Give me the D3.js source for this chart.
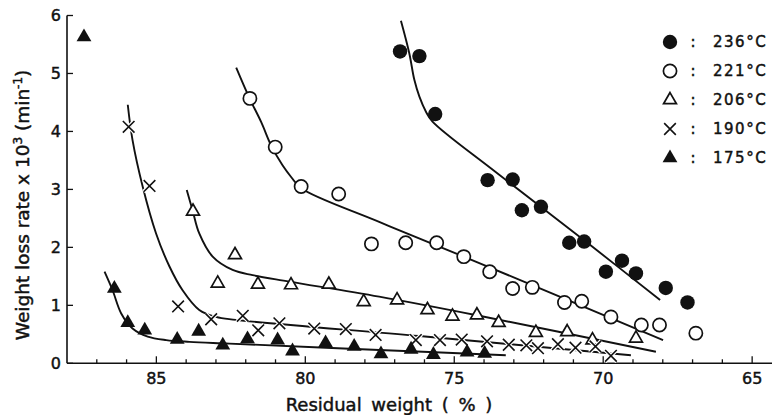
<!DOCTYPE html>
<html>
<head>
<meta charset="utf-8">
<script src="https://cdn.jsdelivr.net/npm/d3@7"></script>
<style>
  body { margin: 0; background: #fff; }
  svg { display: block; }
  text { font-family: "DejaVu Sans", sans-serif; fill: #111; stroke: #111; stroke-width: 0.45px; }
</style>
</head>
<body>
<svg width="774" height="415"></svg>
<script>
// 測定点 [残存重量(%), 重量減少速度 x10^3]
var pts236 = [[76.82,5.38],[76.17,5.30],[75.64,4.30],[73.88,3.16],[73.04,3.17],[72.73,2.64],[72.09,2.70],
  [71.14,2.08],[70.64,2.10],[69.91,1.58],[69.37,1.77],[68.90,1.55],[67.90,1.30],[67.17,1.05]];
var pts221 = [[81.86,4.57],[81.01,3.73],[80.14,3.05],[78.88,2.92],[77.78,2.06],[76.63,2.08],[75.59,2.08],
  [74.68,1.84],[73.81,1.58],[73.04,1.29],[72.38,1.31],[71.30,1.05],[70.72,1.07],[69.74,0.80],
  [68.72,0.66],[68.11,0.66],[66.89,0.52]];
var pts206 = [[83.77,2.62],[82.36,1.87],[82.94,1.38],[81.59,1.36],[80.48,1.35],[79.21,1.36],[78.04,1.06],
  [76.92,1.09],[75.90,0.92],[75.06,0.81],[74.24,0.83],[73.51,0.70],[72.26,0.53],[71.21,0.54],
  [70.36,0.40],[68.90,0.43]];
var pts190 = [[85.93,4.08],[85.23,3.06],[84.27,0.98],[83.16,0.76],[82.10,0.82],[81.58,0.57],[80.87,0.69],
  [79.70,0.60],[78.64,0.59],[77.64,0.49],[76.29,0.40],[75.48,0.40],[74.75,0.41],[73.90,0.38],
  [73.17,0.32],[72.58,0.31],[72.19,0.26],[71.52,0.33],[70.93,0.27],[70.26,0.29],[69.74,0.13]];
var pts175 = [[87.43,5.63],[86.41,1.29],[85.96,0.70],[85.39,0.57],[84.30,0.41],[83.58,0.55],[82.77,0.31],
  [81.94,0.42],[80.93,0.40],[80.43,0.21],[79.32,0.35],[78.36,0.29],[77.46,0.16],[76.45,0.24],
  [75.70,0.15],[74.57,0.19],[73.98,0.17]];

// フィット曲線
var fit236 = [[76.79,5.91],[76.51,5.35],[76.34,4.89],[76.17,4.60],[75.95,4.34],[75.73,4.17],[73.61,3.30],[70.36,2.01],[68.09,1.09]];
var fit221 = [[82.32,5.10],[81.88,4.58],[81.48,4.16],[81.14,3.75],[80.77,3.42],[80.47,3.21],[80.14,3.02],[77.52,2.44],[74.16,1.73],[67.99,0.40]];
var fit206 = [[83.98,2.99],[83.78,2.63],[83.56,2.24],[83.11,1.84],[82.44,1.61],[81.77,1.52],[80.54,1.41],[77.52,1.15],[74.16,0.82],[68.23,0.20]];
var fit190 = [[85.96,4.46],[85.80,3.85],[85.46,3.05],[85.01,2.24],[84.56,1.67],[84.12,1.26],[83.56,0.92],[83.00,0.80],[82.33,0.75],[76.17,0.47],[69.07,0.14]];
var fit175 = [[86.74,1.58],[86.47,1.26],[86.18,0.86],[85.80,0.60],[85.29,0.46],[84.67,0.40],[83.89,0.37],[82.55,0.34],[77.52,0.23],[73.27,0.14]];

var temps = ["236°C", "221°C", "206°C", "190°C", "175°C"];
var markers = ["dot", "ring", "tri", "cross", "filltri"];
var xTicks = [85, 80, 75, 70, 65];
var yTicks = [0, 1, 2, 3, 4, 5, 6];

var svg = d3.select("svg");

var x = d3.scaleLinear().domain([88, 64.3]).range([67, 773]);
var y = d3.scaleLinear().domain([0, 6]).range([363.3, 15.5]);

// 軸
var xAxis = svg.append("g").attr("transform", "translate(0," + y(0) + ")");
xAxis.append("line").attr("x1", x(88)).attr("x2", 772).attr("stroke", "#111").attr("stroke-width", 1.6);
xAxis.selectAll("line.minor")
    .data(d3.range(64, 88))
    .enter().append("line")
    .attr("class", "minor")
    .attr("x1", function (d) { return x(d); })
    .attr("x2", function (d) { return x(d); })
    .attr("y1", 0)
    .attr("y2", function (d) { return d % 5 === 0 ? -7 : -4; })
    .attr("stroke", "#111").attr("stroke-width", 1.3);
xAxis.selectAll("text")
    .data(xTicks)
    .enter().append("text")
    .attr("x", function (d) { return x(d); })
    .attr("y", 21)
    .attr("text-anchor", "middle")
    .attr("font-size", "16px")
    .text(function (d) { return d; });

var yAxis = svg.append("g").attr("transform", "translate(" + x(88) + ",0)");
yAxis.append("line").attr("y1", y(0)).attr("y2", y(6)).attr("stroke", "#111").attr("stroke-width", 1.6);
yAxis.selectAll("line.tick")
    .data(yTicks)
    .enter().append("line")
    .attr("class", "tick")
    .attr("x1", 0).attr("x2", 6)
    .attr("y1", function (d) { return y(d); })
    .attr("y2", function (d) { return y(d); })
    .attr("stroke", "#111").attr("stroke-width", 1.3);
yAxis.selectAll("text")
    .data(yTicks)
    .enter().append("text")
    .attr("x", -6)
    .attr("y", function (d) { return y(d); })
    .attr("dy", "0.36em")
    .attr("text-anchor", "end")
    .attr("font-size", "16px")
    .text(function (d) { return d; });

// 軸ラベル
svg.append("text")
    .attr("x", 389).attr("y", 411)
    .attr("text-anchor", "middle")
    .attr("font-size", "18px")
    .attr("word-spacing", "4px")
    .text("Residual  weight ( % )");

var yl = svg.append("text")
    .attr("transform", "translate(29,205) rotate(-90)")
    .attr("text-anchor", "middle")
    .attr("font-size", "18.5px");
yl.append("tspan").text("Weight loss rate x 10");
yl.append("tspan").attr("font-size", "12px").attr("dy", "-7").text("3");
yl.append("tspan").attr("dy", "7").text(" (min");
yl.append("tspan").attr("font-size", "12px").attr("dy", "-7").text("-1");
yl.append("tspan").attr("dy", "7").text(")");

// フィット曲線
var line = d3.line()
    .x(function (d) { return x(d[0]); })
    .y(function (d) { return y(d[1]); })
    .curve(d3.curveCatmullRom.alpha(0.5));

svg.append("g").selectAll("path")
    .data([fit236, fit221, fit206, fit190, fit175])
    .enter().append("path")
    .attr("d", line)
    .attr("fill", "none")
    .attr("stroke", "#111")
    .attr("stroke-width", 1.9);

// マーカー描画
function drawMarker(g, kind) {
    if (kind === "dot") {
        g.append("circle").attr("r", 7.2).attr("fill", "#111");
    } else if (kind === "ring") {
        g.append("circle").attr("r", 6.6).attr("fill", "#fff").attr("stroke", "#111").attr("stroke-width", 1.7);
    } else if (kind === "tri") {
        g.append("path").attr("d", d3.symbol().type(d3.symbolTriangle).size(72)())
            .attr("fill", "#fff").attr("stroke", "#111").attr("stroke-width", 1.7);
    } else if (kind === "filltri") {
        g.append("path").attr("d", d3.symbol().type(d3.symbolTriangle).size(95)())
            .attr("fill", "#111");
    } else if (kind === "cross") {
        var p = d3.symbol().type(d3.symbolX).size(90)();
        g.append("path").attr("d", p).attr("fill", "none").attr("stroke", "#fff").attr("stroke-width", 4);
        g.append("path").attr("d", p).attr("fill", "none").attr("stroke", "#111").attr("stroke-width", 1.6);
    }
}

var series = [pts236, pts221, pts206, pts190, pts175];
series.forEach(function (pts, i) {
    svg.append("g").selectAll("g")
        .data(pts)
        .enter().append("g")
        .attr("transform", function (d) { return "translate(" + x(d[0]) + "," + y(d[1]) + ")"; })
        .each(function () { drawMarker(d3.select(this), markers[i]); });
});

// 凡例
var legend = svg.append("g").attr("transform", "translate(670,42)");
var item = legend.selectAll("g")
    .data(temps)
    .enter().append("g")
    .attr("transform", function (d, i) { return "translate(0," + i * 29 + ")"; });
item.each(function (d, i) { drawMarker(d3.select(this), markers[i]); });
item.append("text")
    .attr("x", 23).attr("dy", "0.36em")
    .attr("text-anchor", "middle")
    .attr("font-size", "15px")
    .text(":");
item.append("text")
    .attr("x", 43).attr("dy", "0.36em")
    .attr("font-size", "15px")
    .attr("letter-spacing", "1.5px")
    .text(function (d) { return d; });
</script>
</body>
</html>
